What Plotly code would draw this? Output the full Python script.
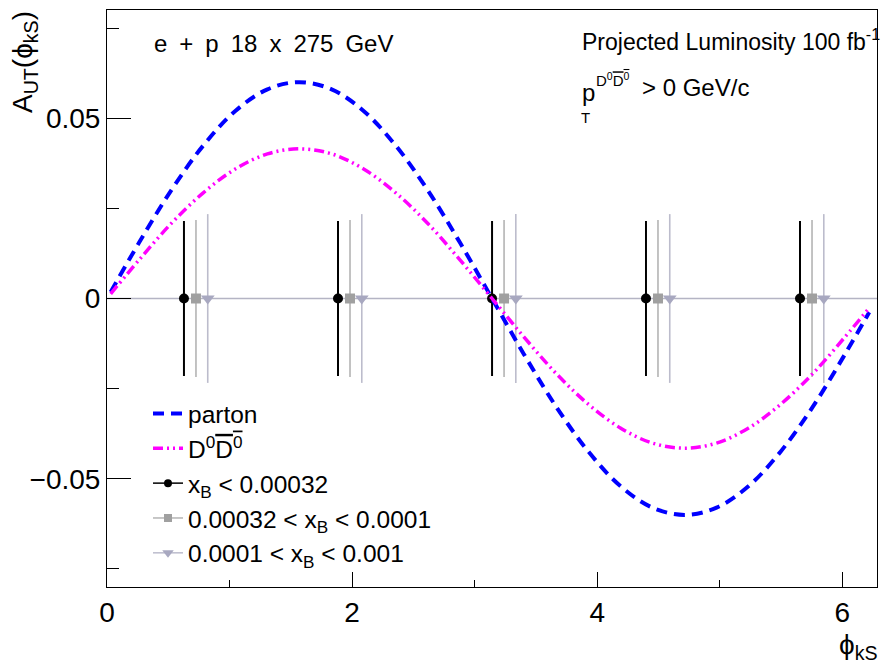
import plotly.graph_objects as go

# ---- data ----
curve_x = [0.03, 0.262, 0.524, 0.785, 1.047, 1.309, 1.571, 1.833, 2.094, 2.356, 2.618, 2.880, 3.142,
           3.403, 3.665, 3.927, 4.189, 4.451, 4.712, 4.974, 5.236, 5.498, 5.760, 6.021, 6.22]
parton_y = [0.0018, 0.0155, 0.0300, 0.0424, 0.0520, 0.0580, 0.0600, 0.0580, 0.0520, 0.0424, 0.0300, 0.0155, 0.0,
            -0.0155, -0.0300, -0.0424, -0.0520, -0.0580, -0.0600, -0.0580, -0.0520, -0.0424, -0.0300, -0.0155, -0.0038]
dd_y = [0.0013, 0.0107, 0.0208, 0.0293, 0.0359, 0.0401, 0.0415, 0.0401, 0.0359, 0.0293, 0.0208, 0.0107, 0.0,
        -0.0107, -0.0208, -0.0293, -0.0359, -0.0401, -0.0415, -0.0401, -0.0359, -0.0293, -0.0208, -0.0107, -0.0026]

x_bin1 = [0.628, 1.885, 3.142, 4.398, 5.655]
x_bin2 = [0.726, 1.983, 3.240, 4.496, 5.753]
x_bin3 = [0.822, 2.079, 3.336, 4.592, 5.849]
y_bin1 = [0, 0, 0, 0, 0]
y_bin2 = [0, 0, 0, 0, 0]
y_bin3 = [0, 0, 0, 0, 0]
err_bin1 = [0.0215, 0.0215, 0.0215, 0.0215, 0.0215]
err_bin2 = [0.0218, 0.0218, 0.0218, 0.0218, 0.0218]
err_bin3 = [0.0234, 0.0234, 0.0234, 0.0234, 0.0234]

names = ["parton",
         "D<sup>0</sup><span style=\"text-decoration:overline\">D<sup>0</sup></span>",
         "x<sub>B</sub> < 0.00032",
         "0.00032 < x<sub>B</sub> < 0.0001",
         "0.0001 < x<sub>B</sub> < 0.001"]

FONT = "Liberation Sans, Arial, Helvetica, sans-serif"
W, H = 881, 669
L, R, T, B = 107, 4, 10, 82


def xp(px):
    return (px - L) / (W - L - R)


def yp(py):
    return (H - B - py) / (H - T - B)


fig = go.Figure()

# data points (no legend; legend proxies below)
pts = [
    (x_bin1, y_bin1, err_bin1, "circle", "#000000", "#000000", 10, 2.0),
    (x_bin2, y_bin2, err_bin2, "square", "#a0a0a0", "#b4b4b4", 10, 1.6),
    (x_bin3, y_bin3, err_bin3, "triangle-down", "#a8a8c0", "#bcbccc", 12, 1.6),
]
for xs, ys, es, sym, mc, ec, sz, th in pts:
    fig.add_trace(go.Scatter(
        x=xs, y=ys, mode="markers", showlegend=False,
        marker=dict(symbol=sym, color=mc, size=sz),
        error_y=dict(type="data", array=es, visible=True, color=ec, thickness=th, width=0),
    ))

# curves
fig.add_trace(go.Scatter(x=curve_x, y=parton_y, mode="lines", name=names[0],
                         line=dict(color="#0000ff", width=4, dash="11px,7px", shape="spline")))
fig.add_trace(go.Scatter(x=curve_x, y=dd_y, mode="lines", name=names[1],
                         line=dict(color="#ff00ff", width=3.5, dash="10px,4px,2px,4px,2px,4px", shape="spline")))

# legend proxies for the point series
for i, (xs, ys, es, sym, mc, ec, sz, th) in enumerate(pts):
    fig.add_trace(go.Scatter(
        x=[None], y=[None], mode="lines+markers", name=names[2 + i],
        marker=dict(symbol=sym, color=mc, size=sz - 2),
        line=dict(color=ec if i else "#000000", width=1.5),
    ))

fig.add_hline(y=0, line=dict(color="#b4b4c4", width=1.5), layer="below")

SP = "\u2002"
ann = []
ann.append(dict(text=SP.join(["e", "+", "p", "18", "x", "275", "GeV"]), x=xp(152), y=yp(44),
                xanchor="left", yanchor="middle", font=dict(size=24)))
ann.append(dict(text="Projected Luminosity 100 fb<sup>-1</sup>", x=xp(580), y=yp(40), xanchor="left",
                yanchor="middle", font=dict(size=23)))
ann.append(dict(text="p", x=xp(580), y=yp(92), xanchor="left", yanchor="middle", font=dict(size=24)))
ann.append(dict(text="T", x=xp(579), y=yp(117), xanchor="left", yanchor="middle", font=dict(size=15)))
ann.append(dict(text="D<sup>0</sup><span style=\"text-decoration:overline\">D<sup>0</sup></span>",
                x=xp(594), y=yp(80), xanchor="left", yanchor="middle", font=dict(size=15)))
ann.append(dict(text="> 0 GeV/c", x=xp(640), y=yp(88), xanchor="left", yanchor="middle", font=dict(size=24)))
# axis titles
ann.append(dict(text="A<sub>UT</sub>(\u03d5<sub>kS</sub>)", x=xp(24), y=yp(9), xanchor="center", yanchor="top",
                textangle=-90, font=dict(size=28)))
ann.append(dict(text="\u03d5<sub>kS</sub>", x=xp(880), y=yp(646), xanchor="right", yanchor="middle",
                font=dict(size=28)))
for a in ann:
    a.update(xref="paper", yref="paper", showarrow=False)
    a["font"].update(family=FONT, color="#000000")

fig.update_layout(
    width=W, height=H,
    margin=dict(l=L, r=R, t=T, b=B, autoexpand=False),
    paper_bgcolor="white", plot_bgcolor="white",
    font=dict(family=FONT, color="#000000"),
    annotations=ann,
    legend=dict(x=xp(148), y=yp(391), xanchor="left", yanchor="top",
                bgcolor="rgba(0,0,0,0)", font=dict(size=24.5, family=FONT),
                tracegroupgap=0, itemwidth=30),
    showlegend=True,
)
fig.update_xaxes(range=[0, 6.2832], showgrid=False, zeroline=False, automargin=False,
                 showline=True, linecolor="black", linewidth=1, mirror=True,
                 ticks="inside", ticklen=15, tickcolor="black", dtick=2, tick0=0,
                 tickfont=dict(size=28, family=FONT),
                 minor=dict(ticks="inside", ticklen=7, dtick=1, tick0=0, tickcolor="black"))
fig.update_yaxes(range=[-0.08, 0.08], showgrid=False, zeroline=False, automargin=False,
                 showline=True, linecolor="black", linewidth=1, mirror=True,
                 ticks="inside", ticklen=24, tickcolor="black", dtick=0.05, tick0=0,
                 tickvals=[-0.05, 0, 0.05], ticktext=["\u22120.05", "0", "0.05"],
                 tickfont=dict(size=28, family=FONT),
                 minor=dict(ticks="inside", ticklen=12, dtick=0.025, tick0=0, tickcolor="black"))

fig.write_html("out.html", config={"displayModeBar": False},
               post_script="document.body.style.margin='0px';")
